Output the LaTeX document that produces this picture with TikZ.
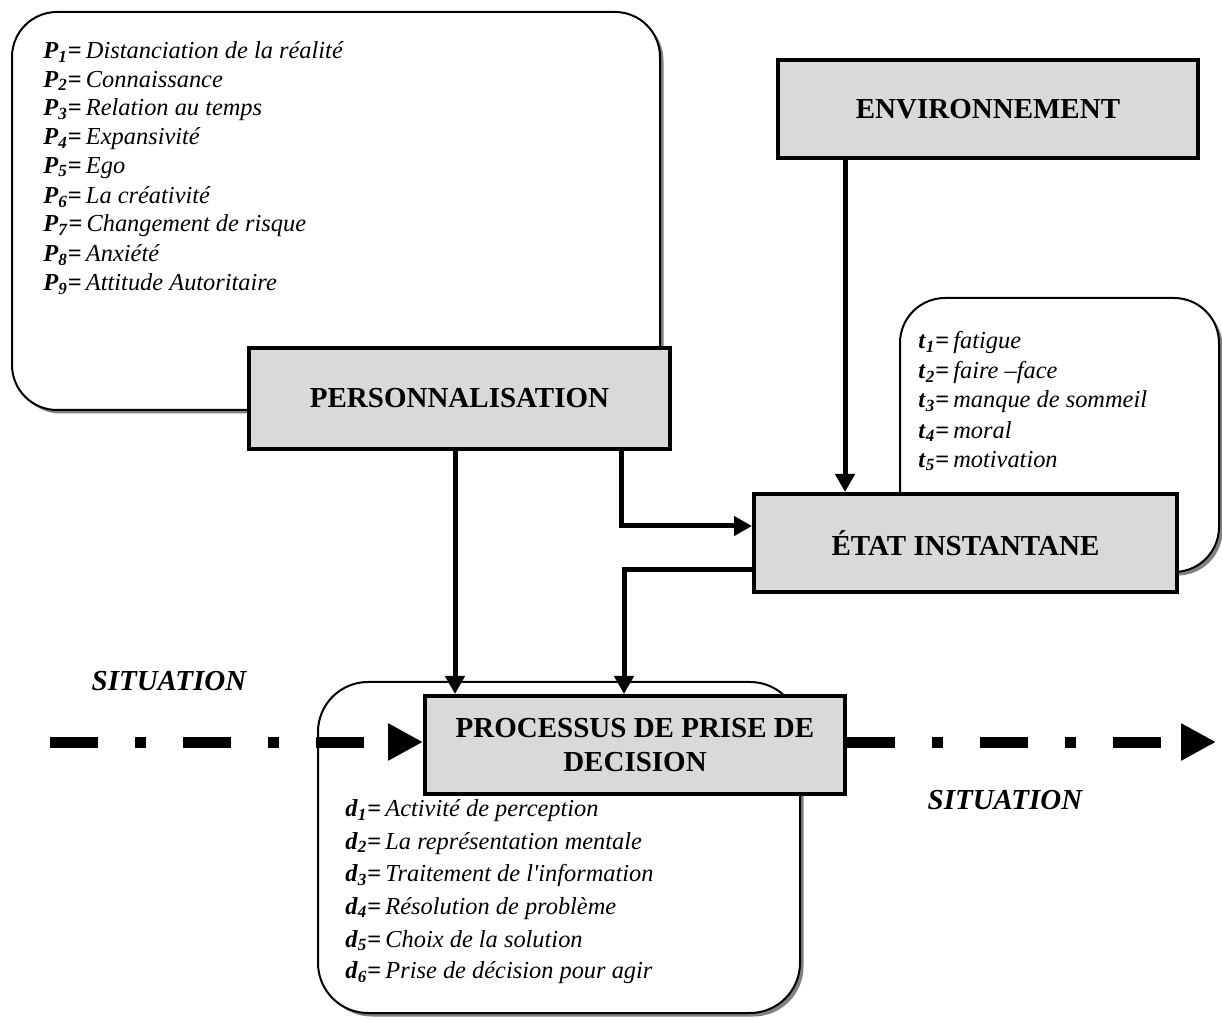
\documentclass[tikz,border=0pt]{standalone}
\usepackage{fontspec}
\setmainfont{Liberation Serif}[Ligatures=TeXOff]
\usetikzlibrary{arrows.meta,shadows}

\definecolor{boxgray}{HTML}{D9D9D9}
\definecolor{shadowgray}{HTML}{808080}

% bold italic symbol with subscript, then the italic description
\newcommand\itm[3]{\textbf{\textit{#1}\textsubscript{\textit{#2}}=}\,\textit{#3}}

\begin{document}
\begin{tikzpicture}[x=0.5pt,y=-0.5pt,
  roundbox/.style={draw=black, line width=1pt, fill=white, rounded corners=22.5pt, inner sep=0pt,
     drop shadow={shadow xshift=1.75pt, shadow yshift=-1.75pt, fill=shadowgray, opacity=1}},
  graybox/.style={draw=black, line width=2pt, fill=boxgray,
     font=\fontsize{14.5}{17}\selectfont\bfseries, align=center, inner sep=0pt},
  itemline/.style={anchor=west, font=\fontsize{12.2}{14}\selectfont, inner sep=0pt},
  conn/.style={line width=2.5pt, line join=miter, -{Triangle[length=9pt,width=9.5pt]}},
  flow/.style={line width=5.5pt, dash pattern=on 24pt off 18.5pt on 5.5pt off 18.5pt,
     -{Triangle[length=17.5pt,width=17.5pt]}},
  sitlabel/.style={font=\fontsize{14.5}{17}\selectfont\bfseries\itshape, inner sep=0pt}]

\useasboundingbox (0,0) rectangle (1222,1021);

% rounded panels listing the factors
\node[roundbox, minimum width=324pt, minimum height=199pt] (pbox) at (336,211) {};
\node[roundbox, minimum width=159.5pt, minimum height=137pt] (tbox) at (1059.5,435) {};
\node[roundbox, minimum width=241pt, minimum height=165.5pt, rounded corners=25pt] (dbox) at (559,847.5) {};

\foreach \i/\txt [count=\k from 0] in {1/Distanciation de la réalité, 2/Connaissance,
    3/Relation au temps, 4/Expansivité, 5/Ego, 6/La créativité,
    7/Changement de risque, 8/Anxiété, 9/Attitude Autoritaire}
  \node[itemline] (p\i) at (43,{52+29*\k}) {\itm{P}{\i}{\txt}};

\foreach \i/\txt [count=\k from 0] in {1/fatigue, 2/faire –face,
    3/manque de sommeil, 4/moral, 5/motivation}
  \node[itemline] (t\i) at (918,{343+29.5*\k}) {\itm{t}{\i}{\txt}};

\foreach \i/\txt [count=\k from 0] in {1/Activité de perception,
    2/La représentation mentale, 3/Traitement de l'information,
    4/Résolution de problème, 5/Choix de la solution, 6/Prise de décision pour agir}
  \node[itemline] (d\i) at (345,{811+32.4*\k}) {\itm{d}{\i}{\txt}};

% main blocks
\node[graybox, minimum width=210.5pt, minimum height=50.5pt] (pers) at (459.5,398.5) {PERSONNALISATION};
\node[graybox, minimum width=210pt, minimum height=49pt] (env) at (988,109) {ENVIRONNEMENT};
\node[graybox, minimum width=211.5pt, minimum height=49pt] (etat) at (965.5,543) {ÉTAT INSTANTANE};
\node[graybox, minimum width=210pt, minimum height=49pt] (proc) at (635,745) {PROCESSUS DE PRISE DE\\DECISION};

% connector guides
\coordinate (ax) at (845,0);
\coordinate (bx) at (455,0);
\coordinate (cx) at (621,0);
\coordinate (cy) at (0,526);
\coordinate (dx) at (624,0);
\coordinate (dy) at (0,570);

\draw[conn] (env.south -| ax) -- (etat.north -| ax);
\draw[conn] (pers.south -| bx) -- (proc.north -| bx);
\draw[conn] (pers.south -| cx) |- (etat.west |- cy);
\draw[conn] (etat.west |- dy) -| (proc.north -| dx);

% situation flow
\coordinate (sitstart) at (50,742);
\coordinate (sitend) at (1216,742);
\draw[flow] (sitstart) -- (sitstart -| proc.west);
\draw[flow] (proc.east |- sitend) -- (sitend);

\node[sitlabel] (sitA) at (169,681) {SITUATION};
\node[sitlabel] (sitB) at (1005,800) {SITUATION};

\end{tikzpicture}
\end{document}
